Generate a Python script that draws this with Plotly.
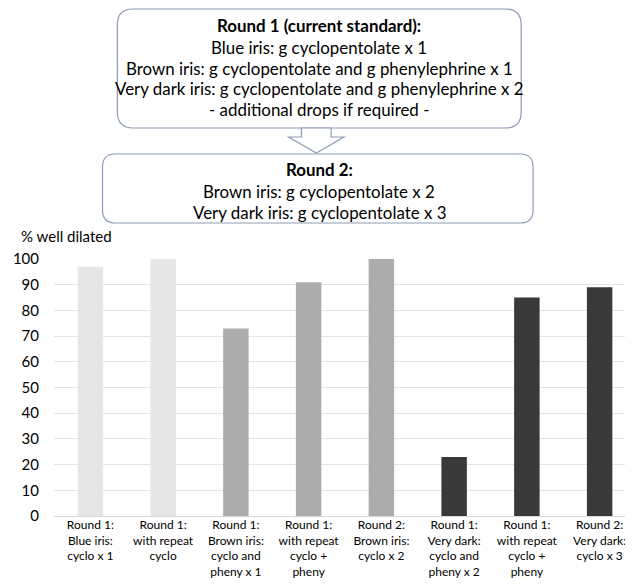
import plotly.graph_objects as go

categories = [
    "Round 1:<br>Blue iris:<br>cyclo x 1",
    "Round 1:<br>with repeat<br>cyclo",
    "Round 1:<br>Brown iris:<br>cyclo and<br>pheny x 1",
    "Round 1:<br>with repeat<br>cyclo +<br>pheny",
    "Round 2:<br>Brown iris:<br>cyclo x 2",
    "Round 1:<br>Very dark:<br>cyclo and<br>pheny x 2",
    "Round 1:<br>with repeat<br>cyclo +<br>pheny",
    "Round 2:<br>Very dark:<br>cyclo x 3",
]
values = [97, 100, 73, 91, 100, 23, 85, 89]
bar_colors = ["#E6E6E6", "#E6E6E6", "#AEABAB", "#AEABAB", "#AEABAB", "#3B3838", "#3B3838", "#3B3838"]
y_ticks = [0, 10, 20, 30, 40, 50, 60, 70, 80, 90, 100]

box1_lines = [
    "<b>Round 1 (current standard):</b>",
    "Blue iris: g cyclopentolate x 1",
    "Brown iris: g cyclopentolate and g phenylephrine x 1",
    "Very dark iris: g cyclopentolate and g phenylephrine x 2",
    "- additional drops if required -",
]
box2_lines = [
    "<b>Round 2:</b>",
    "Brown iris: g cyclopentolate x 2",
    "Very dark iris: g cyclopentolate x 3",
]

W, H = 633, 584
L, R, T, B = 40, 628, 251, 508
FONT = "Lato"
CX = 308


def px(x):
    return (x - L) / (R - L)


def py(y):
    return (B - y) / (B - T)


def rounded_rect(x0, y0, x1, y1, r):
    return (
        f"M {px(x0 + r)},{py(y0)} L {px(x1 - r)},{py(y0)} "
        f"Q {px(x1)},{py(y0)} {px(x1)},{py(y0 + r)} "
        f"L {px(x1)},{py(y1 - r)} "
        f"Q {px(x1)},{py(y1)} {px(x1 - r)},{py(y1)} "
        f"L {px(x0 + r)},{py(y1)} "
        f"Q {px(x0)},{py(y1)} {px(x0)},{py(y1 - r)} "
        f"L {px(x0)},{py(y0 + r)} "
        f"Q {px(x0)},{py(y0)} {px(x0 + r)},{py(y0)} Z"
    )


def arrow_path(cx, ytop, ymid, ytip, stem_hw, head_hw):
    return (
        f"M {px(cx - stem_hw)},{py(ytop)} L {px(cx + stem_hw)},{py(ytop)} "
        f"L {px(cx + stem_hw)},{py(ymid)} L {px(cx + head_hw)},{py(ymid)} "
        f"L {px(cx)},{py(ytip)} L {px(cx - head_hw)},{py(ymid)} "
        f"L {px(cx - stem_hw)},{py(ymid)} Z"
    )


fig = go.Figure()
fig.add_trace(go.Bar(
    x=list(range(len(categories))),
    y=values,
    marker=dict(color=bar_colors, line=dict(width=0)),
    width=0.35,
    hoverinfo="skip",
))

edge = "#8E9DB6"
shapes = [
    dict(type="path", xref="paper", yref="paper", path=rounded_rect(104, 1, 512, 120, 16),
         line=dict(color=edge, width=1.2), fillcolor="white", layer="below"),
    dict(type="path", xref="paper", yref="paper", path=arrow_path(305, 120, 129, 145, 15, 28),
         line=dict(color=edge, width=1.2), fillcolor="white", layer="below"),
    dict(type="path", xref="paper", yref="paper", path=rounded_rect(89, 146, 524, 215, 13),
         line=dict(color=edge, width=1.2), fillcolor="white", layer="below"),
]

annotations = []
box1_y = [18, 39.5, 60, 80.5, 101]
for t, yy in zip(box1_lines, box1_y):
    annotations.append(dict(text=t, xref="paper", yref="paper", x=px(CX), y=py(yy),
                            xanchor="center", yanchor="middle", showarrow=False,
                            font=dict(family=FONT, size=16.9, color="#000000")))
box2_y = [162, 183, 204]
for t, yy in zip(box2_lines, box2_y):
    annotations.append(dict(text=t, xref="paper", yref="paper", x=px(CX), y=py(yy),
                            xanchor="center", yanchor="middle", showarrow=False,
                            font=dict(family=FONT, size=16.9, color="#000000")))
annotations.append(dict(text="% well dilated", xref="paper", yref="paper", x=px(5), y=py(228),
                        xanchor="left", yanchor="middle", showarrow=False,
                        font=dict(family=FONT, size=15, color="#000000")))

fig.update_layout(
    width=W, height=H,
    margin=dict(l=L, r=W - R, t=T, b=H - B, pad=0),
    plot_bgcolor="white", paper_bgcolor="white",
    showlegend=False,
    shapes=shapes,
    annotations=annotations,
    font=dict(family=FONT, color="#000000"),
    xaxis=dict(
        tickmode="array", tickvals=list(range(len(categories))), ticktext=categories,
        range=[-0.5, len(categories) - 0.5], showgrid=False, showline=False, zeroline=False,
        ticks="",
        tickfont=dict(family=FONT, size=12, color="#000000"), tickangle=0,
    ),
    yaxis=dict(
        range=[0, 100], tickmode="array", tickvals=y_ticks,
        showgrid=True, gridcolor="#E3E3E3", gridwidth=1.3,
        zeroline=True, zerolinecolor="#D9D9D9", zerolinewidth=1.3,
        showline=False, ticks="outside", ticklen=11, tickcolor="rgba(0,0,0,0)",
        tickfont=dict(family=FONT, size=15, color="#000000"),
    ),
)

fig.write_html("out.html")
